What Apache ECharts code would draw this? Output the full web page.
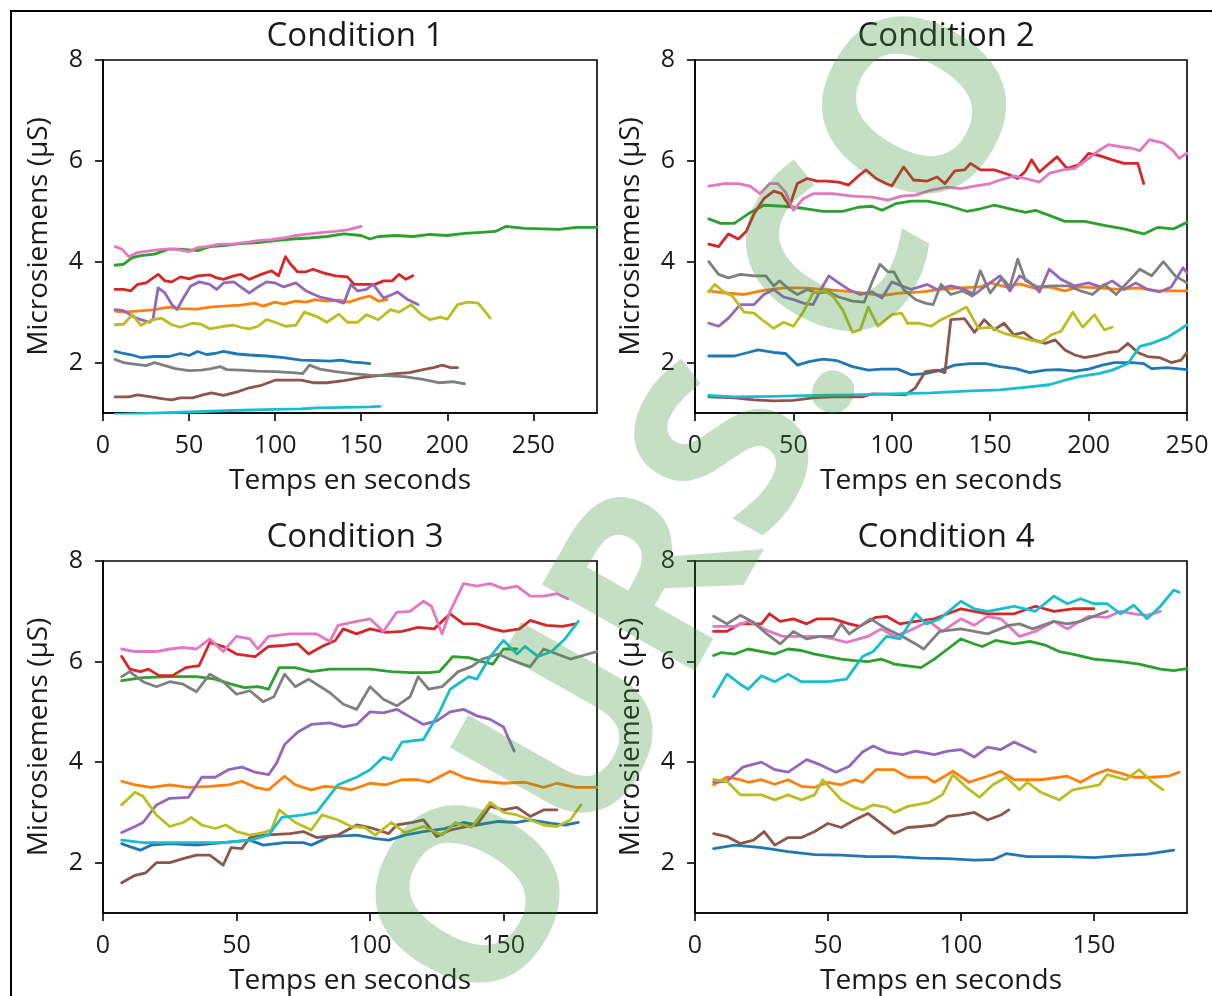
<!DOCTYPE html>
<html>
<head>
<meta charset="utf-8">
<script src="https://cdn.jsdelivr.net/npm/echarts@6/dist/echarts.min.js"></script>
<style>
  html, body { margin: 0; padding: 0; background: #fff; }
  #chart { width: 1212px; height: 996px; }
</style>
</head>
<body>
<div id="chart"></div>
<script>
// Skin conductance recordings, [time (s), conductance (µS)], one array per subject colour.

// ---- Condition 1 ----
const c1Blue = [[7,2.22],[12,2.18],[17,2.15],[22,2.1],[30,2.12],[38,2.12],[45,2.18],[50,2.14],[55,2.22],[60,2.16],[65,2.18],[70,2.22],[78,2.17],[85,2.15],[95,2.13],[105,2.1],[115,2.05],[125,2.04],[132,2.03],[138,2.05],[145,2.01],[150,2.0],[155,1.98]];
const c1Orange = [[7,3.02],[12,3.0],[20,3.02],[30,3.05],[38,3.1],[45,3.07],[55,3.06],[62,3.1],[70,3.12],[80,3.14],[88,3.18],[93,3.12],[100,3.2],[105,3.16],[112,3.22],[118,3.2],[123,3.25],[130,3.22],[137,3.24],[143,3.2],[150,3.28],[155,3.32],[160,3.22],[165,3.25]];
const c1Green = [[7,3.93],[12,3.95],[17,4.08],[22,4.12],[30,4.15],[38,4.25],[45,4.25],[55,4.22],[62,4.3],[70,4.32],[80,4.36],[90,4.38],[100,4.42],[110,4.45],[120,4.47],[130,4.5],[140,4.55],[150,4.52],[155,4.45],[160,4.5],[170,4.52],[180,4.5],[190,4.54],[200,4.52],[210,4.56],[220,4.58],[228,4.6],[234,4.7],[245,4.66],[255,4.65],[265,4.64],[275,4.68],[287,4.68]];
const c1Red = [[7,3.45],[12,3.45],[16,3.42],[20,3.55],[25,3.58],[32,3.75],[36,3.62],[40,3.6],[45,3.7],[50,3.66],[55,3.72],[62,3.74],[66,3.68],[70,3.65],[76,3.72],[80,3.75],[85,3.65],[92,3.75],[98,3.82],[102,3.72],[106,4.1],[109,3.95],[113,3.8],[118,3.8],[122,3.85],[128,3.78],[135,3.72],[142,3.7],[146,3.55],[152,3.55],[158,3.55],[163,3.62],[168,3.62],[172,3.75],[176,3.65],[180,3.72]];
const c1Purple = [[7,3.05],[12,3.03],[17,2.92],[22,2.85],[27,2.8],[29,2.85],[32,3.48],[36,3.38],[40,3.15],[43,3.05],[47,3.3],[51,3.52],[56,3.6],[62,3.55],[66,3.45],[70,3.58],[76,3.6],[80,3.5],[85,3.38],[90,3.5],[95,3.6],[100,3.58],[105,3.5],[112,3.58],[118,3.42],[126,3.3],[133,3.25],[140,3.18],[144,3.55],[148,3.42],[153,3.45],[157,3.55],[163,3.28],[168,3.35],[171,3.4],[177,3.25],[183,3.15]];
const c1Brown = [[7,1.32],[15,1.32],[20,1.36],[28,1.32],[35,1.28],[40,1.26],[45,1.3],[52,1.3],[58,1.36],[63,1.4],[70,1.35],[78,1.42],[85,1.5],[92,1.55],[100,1.65],[108,1.65],[115,1.65],[122,1.6],[130,1.6],[140,1.64],[150,1.7],[160,1.74],[170,1.78],[178,1.8],[186,1.86],[192,1.9],[197,1.95],[202,1.9],[206,1.9]];
const c1Pink = [[7,4.3],[11,4.25],[15,4.1],[20,4.18],[28,4.22],[35,4.25],[42,4.25],[50,4.2],[55,4.28],[60,4.3],[68,4.35],[75,4.35],[82,4.38],[90,4.42],[98,4.44],[105,4.47],[112,4.52],[120,4.55],[128,4.58],[135,4.6],[142,4.63],[150,4.7]];
const c1Gray = [[7,2.06],[12,2.0],[18,1.97],[25,1.94],[30,2.0],[35,1.95],[42,1.88],[50,1.84],[57,1.85],[63,1.88],[68,1.92],[72,1.86],[80,1.85],[90,1.83],[100,1.82],[110,1.8],[116,1.78],[120,1.95],[126,1.87],[135,1.82],[145,1.78],[155,1.75],[165,1.74],[175,1.72],[185,1.67],[195,1.6],[203,1.62],[210,1.58]];
const c1Olive = [[7,2.75],[12,2.76],[17,2.95],[22,2.74],[28,2.84],[34,2.88],[40,2.75],[45,2.7],[52,2.78],[57,2.76],[62,2.67],[70,2.72],[76,2.74],[80,2.7],[85,2.67],[90,2.72],[95,2.85],[100,2.8],[106,2.72],[112,2.74],[117,3.0],[125,2.9],[130,2.8],[137,2.96],[142,2.8],[148,2.8],[153,2.95],[160,2.85],[167,3.05],[172,3.0],[179,3.15],[185,2.95],[190,2.85],[196,2.9],[200,2.86],[206,3.15],[212,3.2],[218,3.18],[225,2.88]];
const c1Cyan = [[7,0.97],[25,0.99],[50,1.02],[75,1.05],[100,1.07],[115,1.08],[125,1.1],[140,1.11],[155,1.12],[161,1.13]];

// ---- Condition 2 ----
const c2Blue = [[7,2.13],[20,2.13],[27,2.2],[32,2.25],[40,2.2],[46,2.18],[52,1.95],[58,2.02],[65,2.07],[72,2.04],[80,1.92],[88,1.85],[95,1.87],[103,1.87],[110,1.76],[117,1.78],[125,1.85],[132,1.95],[140,1.98],[148,1.98],[155,1.92],[163,1.88],[170,1.8],[178,1.85],[185,1.86],[193,1.83],[200,1.87],[207,1.95],[213,2.0],[222,2.0],[228,1.98],[232,1.88],[240,1.9],[250,1.86]];
const c2Orange = [[7,3.42],[15,3.38],[25,3.35],[35,3.43],[45,3.48],[55,3.48],[65,3.45],[75,3.42],[85,3.38],[95,3.33],[105,3.38],[115,3.4],[125,3.45],[135,3.48],[145,3.5],[150,3.58],[158,3.5],[165,3.56],[172,3.48],[180,3.5],[188,3.42],[195,3.5],[205,3.48],[215,3.45],[225,3.48],[235,3.42],[250,3.42]];
const c2Green = [[7,4.85],[13,4.76],[20,4.76],[27,4.95],[35,5.12],[45,5.1],[55,5.06],[65,5.0],[75,5.0],[83,5.08],[90,5.1],[95,5.02],[102,5.15],[110,5.2],[118,5.2],[128,5.12],[138,5.0],[145,5.05],[152,5.12],[160,5.05],[168,4.98],[173,5.02],[180,4.92],[188,4.8],[198,4.8],[208,4.72],[218,4.65],[228,4.55],[235,4.68],[243,4.65],[250,4.78]];
const c2Red = [[7,4.35],[12,4.3],[17,4.55],[22,4.45],[26,4.6],[30,4.95],[35,5.25],[40,5.4],[44,5.35],[48,5.1],[52,5.55],[57,5.65],[62,5.6],[67,5.6],[73,5.58],[78,5.52],[83,5.7],[87,5.82],[92,5.65],[97,5.55],[100,5.5],[106,5.88],[111,5.62],[118,5.6],[123,5.68],[127,5.55],[132,5.8],[137,5.82],[140,5.95],[145,5.82],[152,5.82],[160,5.72],[164,5.65],[168,5.8],[171,6.02],[175,5.78],[180,5.95],[184,6.08],[189,5.85],[195,5.92],[200,6.15],[206,6.1],[212,6.02],[218,5.95],[225,5.95],[228,5.55]];
const c2Purple = [[7,2.78],[12,2.72],[17,2.88],[23,3.15],[30,3.15],[35,3.35],[40,3.45],[45,3.3],[50,3.25],[55,3.18],[60,3.15],[65,3.52],[68,3.72],[73,3.58],[78,3.45],[84,3.35],[90,3.4],[95,3.28],[100,3.6],[105,3.52],[110,3.45],[118,3.55],[123,3.45],[130,3.52],[137,3.45],[142,3.35],[147,3.5],[155,3.72],[160,3.42],[165,3.72],[170,3.6],[175,3.4],[180,3.85],[186,3.65],[193,3.52],[200,3.58],[206,3.5],[212,3.62],[218,3.45],[224,3.58],[230,3.45],[236,3.4],[242,3.5],[248,3.88],[250,3.78]];
const c2Brown = [[7,1.32],[20,1.3],[30,1.26],[40,1.24],[50,1.25],[60,1.3],[70,1.32],[85,1.32],[90,1.38],[100,1.37],[107,1.36],[112,1.5],[117,1.82],[123,1.85],[127,1.8],[130,2.85],[137,2.87],[142,2.6],[147,2.85],[152,2.65],[157,2.78],[162,2.55],[167,2.6],[172,2.45],[178,2.38],[183,2.45],[188,2.25],[193,2.15],[198,2.1],[205,2.15],[210,2.2],[215,2.22],[220,2.38],[225,2.2],[230,2.12],[236,2.1],[242,2.0],[247,2.05],[250,2.2]];
const c2Pink = [[7,5.5],[15,5.55],[22,5.55],[28,5.5],[33,5.35],[38,5.55],[42,5.55],[46,5.38],[50,5.02],[55,5.25],[60,5.35],[70,5.35],[80,5.3],[90,5.28],[98,5.22],[105,5.3],[112,5.32],[120,5.42],[128,5.48],[135,5.45],[142,5.5],[150,5.55],[155,5.62],[162,5.7],[168,5.65],[175,5.58],[180,5.75],[187,5.82],[193,5.85],[200,6.05],[205,6.2],[210,6.32],[216,6.28],[222,6.25],[226,6.2],[231,6.42],[238,6.35],[243,6.2],[246,6.05],[250,6.15]];
const c2Gray = [[7,4.0],[12,3.75],[17,3.68],[23,3.75],[30,3.72],[36,3.72],[40,3.52],[43,3.62],[48,3.45],[52,3.35],[57,3.45],[62,3.38],[68,3.4],[73,3.3],[80,3.22],[86,3.2],[90,3.6],[94,3.95],[98,3.8],[101,3.8],[106,3.45],[112,3.25],[117,3.18],[121,3.15],[125,3.55],[130,3.35],[136,3.42],[141,3.32],[145,3.82],[150,3.38],[156,3.68],[160,3.5],[164,4.05],[168,3.62],[174,3.5],[182,3.52],[190,3.52],[196,3.42],[202,3.35],[208,3.55],[214,3.35],[220,3.6],[226,3.85],[232,3.72],[238,4.0],[244,3.72],[250,3.58]];
const c2Olive = [[7,3.4],[10,3.55],[14,3.42],[19,3.32],[25,3.0],[30,2.98],[35,2.82],[40,2.68],[45,2.8],[50,2.72],[55,3.0],[60,3.38],[66,3.42],[70,3.32],[75,3.05],[80,2.6],[84,2.65],[88,3.1],[93,2.72],[100,2.95],[105,2.98],[108,2.78],[114,2.78],[120,2.72],[125,2.85],[132,2.98],[138,3.1],[144,2.68],[150,2.7],[157,2.58],[163,2.52],[170,2.45],[176,2.4],[181,2.55],[186,2.62],[192,3.0],[197,2.7],[203,2.95],[208,2.65],[212,2.7]];
const c2Cyan = [[7,1.35],[20,1.32],[40,1.33],[60,1.35],[80,1.36],[100,1.38],[120,1.4],[140,1.44],[155,1.46],[170,1.52],[180,1.56],[188,1.65],[195,1.72],[205,1.78],[212,1.85],[220,1.98],[226,2.32],[232,2.38],[240,2.5],[245,2.62],[250,2.75]];

// ---- Condition 3 ----
const c3Blue = [[7,2.38],[10,2.32],[14,2.25],[18,2.35],[25,2.38],[35,2.35],[45,2.4],[55,2.45],[60,2.35],[68,2.4],[75,2.4],[78,2.35],[85,2.52],[95,2.55],[102,2.48],[107,2.45],[113,2.55],[120,2.62],[128,2.68],[135,2.8],[140,2.75],[148,2.82],[155,2.8],[160,2.85],[168,2.78],[173,2.75],[178,2.8]];
const c3Orange = [[7,3.62],[12,3.55],[18,3.5],[25,3.55],[32,3.5],[40,3.52],[47,3.55],[52,3.62],[57,3.5],[62,3.45],[68,3.72],[72,3.55],[78,3.45],[83,3.52],[88,3.5],[93,3.45],[100,3.58],[106,3.55],[112,3.65],[118,3.65],[122,3.6],[130,3.82],[136,3.68],[142,3.62],[150,3.58],[158,3.6],[165,3.5],[170,3.58],[177,3.5],[185,3.5]];
const c3Green = [[7,5.62],[15,5.68],[25,5.7],[35,5.7],[42,5.65],[48,5.55],[53,5.48],[58,5.5],[62,5.45],[66,5.88],[72,5.88],[78,5.8],[85,5.85],[92,5.85],[100,5.85],[108,5.8],[115,5.78],[122,5.78],[126,5.8],[131,6.1],[137,6.08],[142,6.0],[146,5.95],[150,6.25],[155,6.25]];
const c3Red = [[7,6.1],[10,5.85],[14,5.8],[17,5.85],[21,5.72],[26,5.72],[31,5.88],[36,5.92],[40,6.38],[45,6.3],[50,6.15],[57,6.1],[62,6.3],[68,6.32],[73,6.35],[77,6.15],[82,6.3],[87,6.42],[90,6.65],[95,6.55],[100,6.65],[106,6.58],[112,6.6],[118,6.68],[124,6.65],[130,6.95],[135,6.75],[140,6.75],[146,6.65],[150,6.6],[156,6.65],[160,6.82],[166,6.72],[172,6.7],[177,6.75]];
const c3Purple = [[7,2.6],[12,2.72],[15,2.8],[20,3.15],[25,3.28],[32,3.3],[37,3.7],[42,3.7],[47,3.85],[52,3.9],[57,3.8],[62,3.75],[65,3.98],[68,4.35],[73,4.6],[78,4.75],[85,4.78],[90,4.7],[95,4.75],[100,5.0],[105,4.98],[110,5.05],[115,4.9],[120,4.75],[125,4.82],[130,5.0],[135,5.05],[140,4.92],[145,4.85],[150,4.7],[154,4.22]];
const c3Brown = [[7,1.6],[12,1.75],[16,1.8],[20,2.0],[25,2.0],[30,2.08],[35,2.15],[40,2.15],[45,1.95],[48,2.3],[52,2.28],[55,2.5],[60,2.55],[70,2.58],[75,2.62],[80,2.5],[88,2.55],[95,2.75],[100,2.7],[107,2.58],[110,2.75],[116,2.8],[120,2.85],[125,2.52],[130,2.65],[136,2.72],[140,2.75],[145,3.12],[150,3.05],[155,3.1],[160,2.92],[165,3.05],[170,3.05]];
const c3Pink = [[7,6.25],[12,6.2],[20,6.2],[25,6.25],[30,6.28],[35,6.25],[40,6.45],[45,6.2],[50,6.5],[55,6.45],[58,6.25],[62,6.5],[70,6.55],[80,6.55],[85,6.4],[88,6.72],[95,6.8],[100,6.85],[105,6.6],[110,6.98],[115,7.0],[120,7.2],[123,7.1],[127,6.55],[130,7.0],[135,7.55],[140,7.5],[145,7.55],[150,7.45],[155,7.5],[160,7.3],[165,7.3],[170,7.35],[174,7.25]];
const c3Gray = [[7,5.7],[10,5.8],[15,5.6],[20,5.5],[25,5.6],[30,5.55],[35,5.4],[40,5.75],[45,5.6],[50,5.35],[55,5.42],[60,5.2],[64,5.3],[68,5.75],[72,5.5],[77,5.65],[85,5.38],[90,5.15],[95,5.05],[100,5.5],[105,5.25],[110,5.12],[115,5.3],[118,5.7],[122,5.45],[127,5.5],[133,5.8],[138,5.9],[142,6.05],[148,6.15],[152,6.05],[157,5.95],[160,5.9],[165,6.25],[170,6.15],[175,6.05],[185,6.2]];
const c3Olive = [[7,3.15],[12,3.4],[15,3.32],[20,2.95],[25,2.72],[30,2.8],[33,2.9],[37,2.75],[42,2.68],[46,2.75],[50,2.62],[55,2.55],[60,2.6],[63,2.65],[66,3.05],[72,2.8],[78,2.65],[82,2.95],[88,2.85],[93,2.72],[98,2.7],[102,2.55],[108,2.8],[113,2.6],[120,2.72],[127,2.55],[132,2.8],[138,2.7],[145,3.2],[150,3.0],[155,2.95],[160,2.85],[165,2.75],[170,2.72],[175,2.85],[179,3.15]];
const c3Cyan = [[7,2.45],[15,2.4],[30,2.4],[45,2.4],[55,2.45],[62,2.55],[67,2.9],[75,2.95],[80,3.0],[88,3.55],[95,3.7],[100,3.85],[105,4.1],[108,4.05],[112,4.4],[120,4.45],[126,5.0],[130,5.45],[137,5.7],[140,5.65],[145,6.1],[150,6.42],[155,6.15],[158,6.3],[163,6.1],[168,6.2],[173,6.45],[178,6.8]];

// ---- Condition 4 ----
const c4Blue = [[7,2.28],[15,2.35],[25,2.3],[35,2.22],[45,2.16],[55,2.15],[65,2.12],[75,2.12],[85,2.09],[95,2.08],[105,2.05],[112,2.06],[117,2.18],[125,2.12],[140,2.12],[150,2.1],[160,2.14],[170,2.17],[180,2.25]];
const c4Orange = [[7,3.55],[12,3.7],[17,3.65],[20,3.6],[25,3.65],[30,3.56],[35,3.65],[40,3.52],[45,3.5],[50,3.6],[55,3.55],[60,3.65],[63,3.6],[68,3.85],[75,3.85],[80,3.7],[87,3.7],[90,3.6],[97,3.82],[103,3.6],[110,3.72],[115,3.82],[120,3.65],[130,3.65],[140,3.72],[145,3.6],[150,3.75],[155,3.85],[160,3.78],[165,3.7],[172,3.7],[178,3.72],[182,3.8]];
const c4Green = [[7,6.12],[10,6.18],[15,6.15],[20,6.25],[30,6.15],[35,6.25],[40,6.22],[45,6.15],[50,6.1],[55,6.05],[60,6.02],[65,6.0],[70,6.05],[75,5.95],[85,5.88],[90,6.05],[95,6.25],[100,6.45],[105,6.35],[108,6.3],[113,6.42],[120,6.35],[126,6.4],[132,6.32],[137,6.2],[142,6.15],[150,6.05],[160,6.0],[167,5.95],[175,5.85],[180,5.82],[185,5.86]];
const c4Red = [[7,6.6],[12,6.6],[17,6.75],[25,6.75],[28,6.95],[32,6.8],[37,6.85],[42,6.75],[46,6.85],[52,6.85],[58,6.75],[62,6.7],[68,6.88],[72,6.9],[77,6.75],[83,6.8],[90,6.85],[95,6.95],[100,7.05],[105,7.0],[110,6.95],[120,6.95],[128,7.1],[135,7.0],[142,7.05],[150,7.05]];
const c4Purple = [[7,3.6],[12,3.62],[18,3.9],[25,4.0],[30,3.85],[35,3.8],[42,4.05],[47,3.95],[53,3.8],[58,3.92],[63,4.2],[67,4.32],[72,4.2],[78,4.15],[83,4.22],[90,4.15],[95,4.22],[100,4.25],[105,4.1],[110,4.3],[115,4.25],[120,4.4],[124,4.3],[128,4.2]];
const c4Brown = [[7,2.58],[12,2.52],[17,2.38],[22,2.45],[26,2.62],[30,2.35],[35,2.5],[40,2.5],[45,2.62],[50,2.78],[55,2.7],[60,2.85],[65,2.98],[70,2.78],[75,2.58],[80,2.7],[85,2.72],[90,2.75],[95,2.92],[100,2.95],[105,3.0],[110,2.85],[115,2.95],[118,3.05]];
const c4Pink = [[7,6.7],[15,6.7],[20,6.8],[28,6.6],[33,6.5],[40,6.5],[47,6.5],[52,6.45],[57,6.38],[65,6.5],[70,6.65],[75,6.5],[80,6.6],[88,6.8],[93,6.6],[100,6.85],[105,6.72],[110,6.9],[115,6.85],[122,6.5],[128,6.6],[135,6.8],[140,6.65],[148,6.9],[155,6.88],[160,7.0],[165,6.95],[170,6.92],[175,7.0]];
const c4Gray = [[7,6.9],[12,6.75],[17,6.92],[22,6.78],[27,6.55],[32,6.35],[37,6.6],[42,6.45],[47,6.5],[52,6.5],[55,6.75],[58,6.55],[62,6.7],[66,6.85],[72,6.65],[78,6.5],[83,6.35],[86,6.25],[92,6.6],[100,6.65],[105,6.6],[110,6.55],[118,6.72],[122,6.75],[127,6.65],[135,6.8],[140,6.75],[145,6.8],[150,6.9],[155,7.0]];
const c4Olive = [[7,3.65],[12,3.62],[17,3.35],[25,3.35],[30,3.25],[35,3.35],[40,3.25],[45,3.35],[48,3.65],[55,3.25],[60,3.1],[63,3.05],[67,3.15],[72,3.1],[75,3.0],[80,3.12],[88,3.2],[93,3.35],[97,3.75],[102,3.5],[107,3.3],[112,3.55],[117,3.7],[122,3.45],[125,3.6],[130,3.4],[137,3.25],[142,3.45],[147,3.5],[152,3.55],[155,3.75],[162,3.65],[167,3.85],[172,3.6],[176,3.45]];
const c4Cyan = [[7,5.3],[12,5.75],[17,5.55],[20,5.45],[25,5.72],[30,5.6],[35,5.75],[40,5.6],[50,5.6],[57,5.65],[63,6.1],[67,6.2],[72,6.5],[77,6.45],[83,6.95],[87,6.75],[92,6.85],[100,7.2],[105,7.05],[110,7.0],[120,7.1],[128,7.0],[135,7.3],[140,7.15],[145,7.25],[150,7.15],[155,7.15],[160,6.95],[165,7.12],[170,6.85],[175,7.1],[180,7.42],[182,7.38]];

// Panel titles, axis extents and tick labels
const titles = ['Condition 1', 'Condition 2', 'Condition 3', 'Condition 4'];
const xMaxes = [287, 250, 185, 185];
const xTicks = [
  [0, 50, 100, 150, 200, 250],
  [0, 50, 100, 150, 200, 250],
  [0, 50, 100, 150],
  [0, 50, 100, 150]
];
const yTicks = [2, 4, 6, 8];
const xName = 'Temps en seconds';
const yName = 'Microsiemens (µS)';

const panels = [
  [c1Blue, c1Orange, c1Green, c1Red, c1Purple, c1Brown, c1Pink, c1Gray, c1Olive, c1Cyan],
  [c2Blue, c2Orange, c2Green, c2Red, c2Purple, c2Brown, c2Pink, c2Gray, c2Olive, c2Cyan],
  [c3Blue, c3Orange, c3Green, c3Red, c3Purple, c3Brown, c3Pink, c3Gray, c3Olive, c3Cyan],
  [c4Blue, c4Orange, c4Green, c4Red, c4Purple, c4Brown, c4Pink, c4Gray, c4Olive, c4Cyan]
];

const palette = ['#1f77b4', '#ff7f0e', '#2ca02c', '#d62728', '#9467bd',
                 '#8c564b', '#e377c2', '#7f7f7f', '#bcbd22', '#17becf'];

// Layout of the 2 x 2 axes
const boxes = [
  { left: 103, top: 60, width: 494, height: 353 },
  { left: 695, top: 60, width: 492, height: 353 },
  { left: 103, top: 561, width: 494, height: 353 },
  { left: 695, top: 561, width: 492, height: 353 }
];

const FONT = '"Open Sans", "Noto Sans", sans-serif';
const INK = '#1a1a1a';

const grid = boxes.map(b => Object.assign({
  show: true, borderColor: '#000', borderWidth: 1.6, backgroundColor: 'transparent'
}, b));

const title = boxes.map((b, i) => ({
  text: titles[i],
  left: b.left + b.width / 2,
  top: b.top - 46,
  textAlign: 'center',
  textStyle: { fontFamily: FONT, fontSize: 33, fontWeight: 'normal', color: INK, lineHeight: 36 }
}));

const xAxis = boxes.map((b, i) => ({
  type: 'value', gridIndex: i, min: 0, max: xMaxes[i],
  axisLine: { show: true, onZero: false, lineStyle: { color: '#000', width: 1.6 } },
  axisTick: { show: true, length: 8, customValues: xTicks[i], lineStyle: { color: '#000', width: 1.6 } },
  axisLabel: { customValues: xTicks[i], fontFamily: FONT, fontSize: 25, color: INK, margin: 20 },
  splitLine: { show: false },
  name: xName, nameLocation: 'middle', nameGap: 54,
  nameTextStyle: { fontFamily: FONT, fontSize: 28, color: INK }
}));

const yAxis = boxes.map((b, i) => ({
  type: 'value', gridIndex: i, min: 1, max: 8,
  axisLine: { show: true, onZero: false, lineStyle: { color: '#000', width: 1.6 } },
  axisTick: { show: true, length: 8, customValues: yTicks, lineStyle: { color: '#000', width: 1.6 } },
  axisLabel: { customValues: yTicks, fontFamily: FONT, fontSize: 25, color: INK, margin: 20 },
  splitLine: { show: false },
  name: yName, nameLocation: 'middle', nameGap: 50, nameRotate: 90,
  nameTextStyle: { fontFamily: FONT, fontSize: 28, color: INK }
}));

const series = [];
panels.forEach((lines, p) => {
  lines.forEach((data, k) => {
    series.push({
      type: 'line', xAxisIndex: p, yAxisIndex: p, data: data,
      showSymbol: false, symbol: 'none', smooth: false, clip: true,
      lineStyle: { color: palette[k], width: 2.8, cap: 'round', join: 'round' },
      itemStyle: { color: palette[k] },
      emphasis: { disabled: true }, silent: true
    });
  });
});

// Page frame and the translucent green site stamp across the figure
const deg = Math.PI / 180;
const graphic = [
  {
    type: 'polyline', z: 50,
    shape: { points: [[11, 996], [11, 11], [1212, 11]] },
    style: { stroke: '#000', lineWidth: 2, fill: null }
  },
  {
    type: 'text', z: 60, x: 435, y: 988, rotation: 60.5 * deg,
    style: {
      text: 'OURS.CO', fill: 'rgba(60,150,60,0.30)',
      font: 'bold 246px "Open Sans", sans-serif',
      textAlign: 'left', textVerticalAlign: 'middle'
    }
  }
];

const chart = echarts.init(document.getElementById('chart'), null, { renderer: 'canvas' });
chart.setOption({
  backgroundColor: '#fff',
  animation: false,
  title, grid, xAxis, yAxis, series, graphic
});
</script>
</body>
</html>
